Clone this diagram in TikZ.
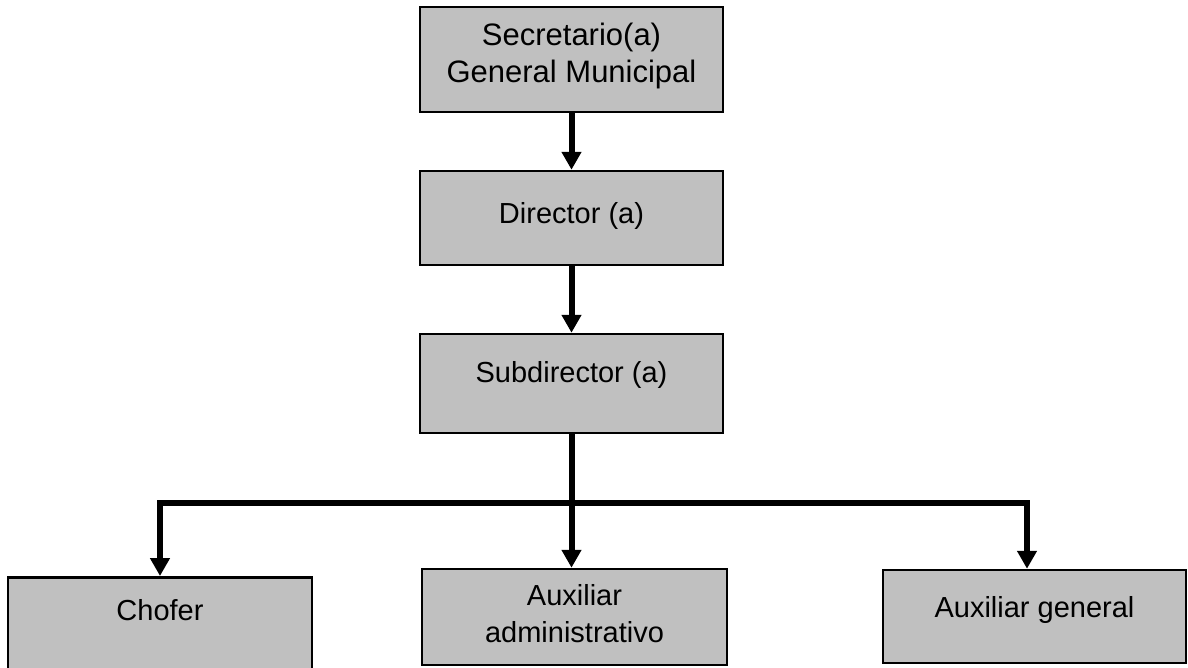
\documentclass[tikz,border=0pt]{standalone}
\usepackage{fontspec}
\setmainfont{Liberation Sans}
\usetikzlibrary{arrows.meta}
\definecolor{boxgray}{RGB}{192,192,192}
\begin{document}
\begin{tikzpicture}[x=1pt,y=-1pt,
  box/.style={draw=black,line width=2.5pt,fill=boxgray,rectangle,inner sep=0pt},
  lbl/.style={font=\fontsize{29}{37}\selectfont,align=center,inner sep=0pt},
  conn/.style={line width=6pt,draw=black},
  arr/.style={conn,-{Triangle[length=18pt,width=19pt]}}]
\useasboundingbox (0,0) rectangle (1188,667);
\clip (0,0) rectangle (1188,667);
% boxes
\node[box,minimum width=303pt,minimum height=105pt] (sec) at (571.5,59.5) {};
\node[box,minimum width=303pt,minimum height=94pt] (dir) at (571.5,218) {};
\node[box,minimum width=303pt,minimum height=99pt] (sub) at (571.5,383.5) {};
\node[box,minimum width=304pt,minimum height=140pt,anchor=north] (cho) at (160,576) {};
\node[box,minimum width=305pt,minimum height=96pt] (aux) at (574.5,617) {};
\node[box,minimum width=303pt,minimum height=93pt] (gen) at (1034.5,616.5) {};
% texts
\node[lbl,font=\fontsize{31}{37}\selectfont] (tsec) at (571.5,56) {Secretario(a)\\General Municipal};
\node[lbl,anchor=base] (tdir) at (571.5,223) {Director (a)};
\node[lbl,anchor=base] (tsub) at (571.5,382) {Subdirector (a)};
\node[lbl,anchor=base] (tcho) at (160,620) {Chofer};
\node[lbl] (taux) at (574.5,614) {Auxiliar\\administrativo};
\node[lbl,anchor=base] (tgen) at (1034.5,617) {Auxiliar general};
% connectors
\coordinate (bus) at (571.5,503);
\coordinate (bl) at (160,503);
\coordinate (br) at (1027,503);
\draw[arr] (sec.south) -- (dir.north);
\draw[arr] (dir.south) -- (sub.north);
\draw[arr] (sub.south) -- (sub.south |- aux.north);
\draw[arr] (bus) -- (bl) -- (cho.north);
\draw[arr] (bus) -- (br) -- (br |- gen.north);
\end{tikzpicture}
\end{document}
